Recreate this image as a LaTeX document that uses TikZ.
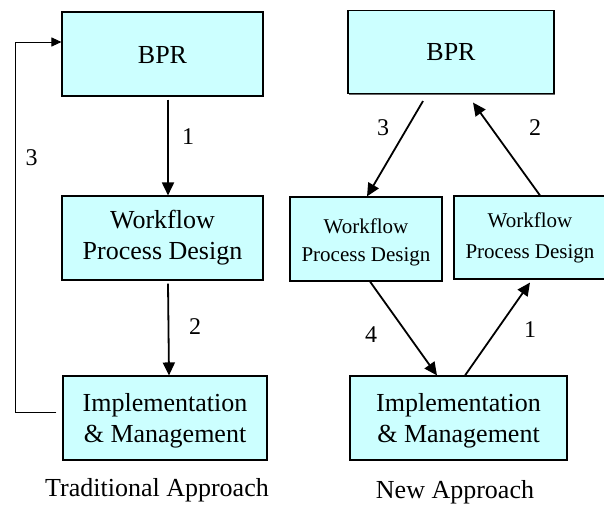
\documentclass[tikz,border=0pt]{standalone}
\usepackage{fontspec}
\setmainfont{Liberation Serif}
\usetikzlibrary{arrows.meta,shadows}
\definecolor{boxfill}{HTML}{CCFFFF}
\tikzset{
  box/.style={draw=black, line width=1.1pt, fill=boxfill, rectangle, inner sep=0pt, align=center,
    drop shadow={shadow xshift=1.4pt, shadow yshift=-1.4pt, fill=gray!80!black, opacity=1},
    font=\fontsize{26}{31}\selectfont},
  smallbox/.style={box, font=\fontsize{21}{28}\selectfont},
  smallboxwide/.style={box, font=\fontsize{21}{31}\selectfont},
  arr/.style={line width=1.8pt, -{Triangle[length=13pt,width=12pt]}},
  fb/.style={line width=1pt, -{Triangle[length=10pt,width=9pt]}},
  lbl/.style={font=\fontsize{24}{28}\selectfont, inner sep=0pt},
  ttl/.style={font=\fontsize{26}{30}\selectfont, inner sep=0pt}
}
\begin{document}
\begin{tikzpicture}[x=1pt,y=-1pt]
\useasboundingbox (0,0) rectangle (604,506);
% Traditional approach
\node[box, minimum width=201pt, minimum height=84pt] (lbpr) at (162.5,54) {\rule{0pt}{20pt}BPR};
\node[box, minimum width=201pt, minimum height=84pt] (lwpd) at (162.5,238) {Workflow\\Process Design};
\node[box, minimum width=204pt, minimum height=84pt] (lim) at (165,418) {\rule{0pt}{24.5pt}Implementation\\\& Management};
\draw[arr] ([shift={(5.5,3)}]lbpr.south) -- ([xshift=5.5pt]lwpd.north);
\draw[arr] ([shift={(5.5,3)}]lwpd.south) -- ([xshift=4pt]lim.north);
\draw[fb] ([shift={(-6,-6)}]lim.west) -- ++(-41,0) |- ([yshift=12pt]lbpr.west);
\node[lbl] (l1) at (188,137) {1};
\node[lbl] (l2) at (195,327) {2};
\node[lbl] (l3) at (31.5,158) {3};
\node[ttl] (t1) at (157,490) {Traditional Approach};
% New approach
\node[box, minimum width=206pt, minimum height=83pt] (rbpr) at (451,52) {BPR};
\node[smallbox, minimum width=152pt, minimum height=84pt] (rwpd1) at (366,239) {\rule{0pt}{21pt}Workflow\\Process Design};
\node[smallboxwide, minimum width=152pt, minimum height=83pt] (rwpd2) at (530,237.5) {Workflow\\Process Design};
\node[box, minimum width=217pt, minimum height=84pt] (rim) at (458.5,418) {\rule{0pt}{24.5pt}Implementation\\\& Management};
\draw[arr] ([shift={(-28,7)}]rbpr.south) -- ([xshift=1pt]rwpd1.north);
\draw[arr] ([xshift=10pt]rwpd2.north) -- ([shift={(22,8.5)}]rbpr.south);
\draw[arr] ([xshift=4pt]rwpd1.south) -- ([xshift=-21.5pt]rim.north);
\draw[arr] ([xshift=6.5pt]rim.north) -- ([shift={(0,3)}]rwpd2.south);
\node[lbl] (r3) at (383,128) {3};
\node[lbl] (r2) at (535,128) {2};
\node[lbl] (r4) at (371,335) {4};
\node[lbl] (r1) at (530,330) {1};
\node[ttl] (t2) at (455,492) {New Approach};
\end{tikzpicture}
\end{document}
